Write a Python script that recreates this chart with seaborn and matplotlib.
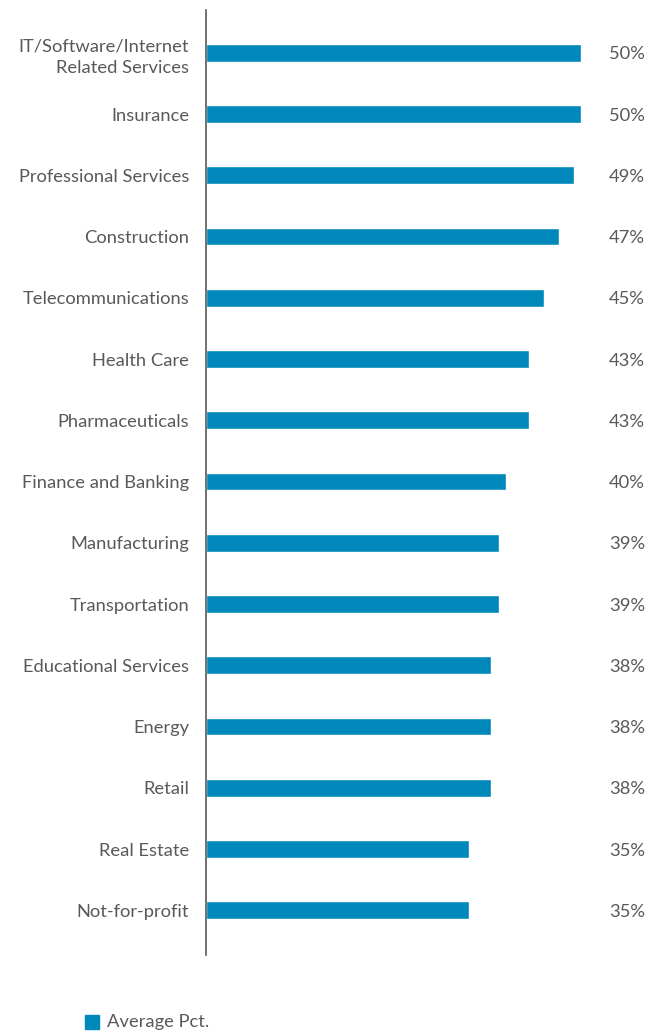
import matplotlib
matplotlib.use("Agg")
import matplotlib.pyplot as plt
import matplotlib.patches as mpatches
import matplotlib.transforms as mtransforms
import seaborn as sns
import pandas as pd

industries = [
    "IT/Software/Internet\nRelated Services",
    "Insurance",
    "Professional Services",
    "Construction",
    "Telecommunications",
    "Health Care",
    "Pharmaceuticals",
    "Finance and Banking",
    "Manufacturing",
    "Transportation",
    "Educational Services",
    "Energy",
    "Retail",
    "Real Estate",
    "Not-for-profit",
]
avg_pct = [50, 50, 49, 47, 45, 43, 43, 40, 39, 39, 38, 38, 38, 35, 35]
series_name = "Average Pct."

bar_color = "#0088BA"
text_color = "#595959"
fsize = 13.2

sns.set_theme(style="white")
plt.rcParams["font.family"] = ["Lato", "DejaVu Sans"]

df = pd.DataFrame({"industry": industries, "pct": avg_pct})

fig = plt.figure(figsize=(6.59, 10.34), dpi=100)
W, H = 659, 1034
ax = fig.add_axes([206 / W, 1 - 955 / H, (600 - 206) / W, (955 - 10) / H])

sns.barplot(data=df, y="industry", x="pct", orient="h", color=bar_color,
            width=0.29, saturation=1, ax=ax)

ax.set_xlim(0, 394 / 7.5)
ax.set_ylim(len(industries) - 1 + 0.73, -0.70)
ax.set_xlabel("")
ax.set_ylabel("")
ax.set_xticks([])
ax.tick_params(axis="y", length=0, pad=12, labelsize=fsize, labelcolor=text_color)
for lbl in ax.get_yticklabels():
    lbl.set_linespacing(1.45)
for s in ["top", "right", "bottom"]:
    ax.spines[s].set_visible(False)
ax.spines["left"].set_color("#595959")
ax.spines["left"].set_linewidth(1.2)

# value labels, right-aligned in a column beyond the bars
trans = mtransforms.blended_transform_factory(fig.transFigure, ax.transData)
for i, v in enumerate(avg_pct):
    ax.text(645 / W, i, f"{v}%", transform=trans, ha="right",
            va="center_baseline", fontsize=fsize, color=text_color)

# legend
fig.patches.append(mpatches.Rectangle((85 / W, 1 - 1029 / H), 14 / W, 14 / H,
                                      transform=fig.transFigure,
                                      color=bar_color, figure=fig))
fig.text(107 / W, 1 - 1022 / H, series_name, ha="left", va="center",
         fontsize=fsize, color=text_color)

fig.savefig("out.png", dpi=100)
